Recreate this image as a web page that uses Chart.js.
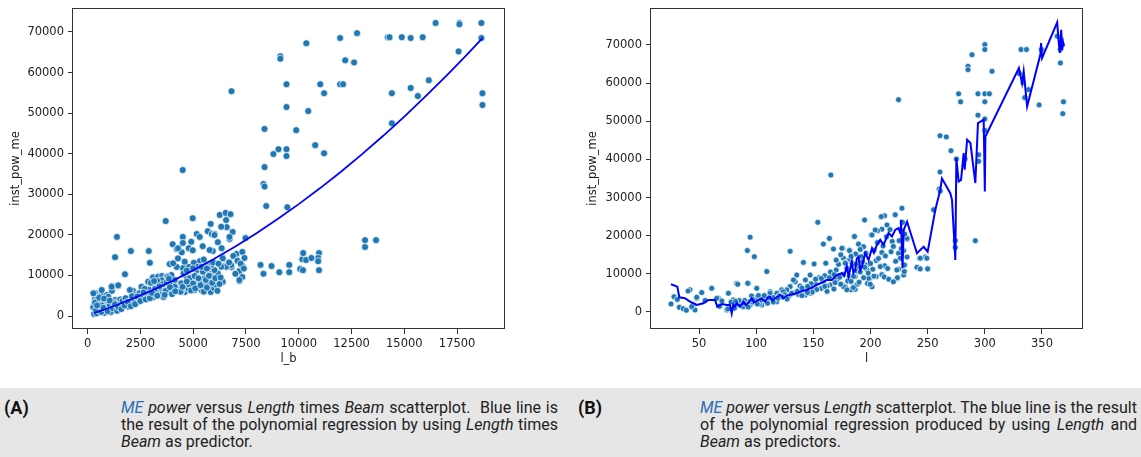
<!DOCTYPE html>
<html>
<head>
<meta charset="utf-8">
<script src="https://cdn.jsdelivr.net/npm/chart.js@4.4.1/dist/chart.umd.min.js"></script>
<style>
  body { margin: 0; background: #fff; width: 1141px; height: 457px; position: relative; overflow: hidden; }
  canvas { position: absolute; top: 0; }
  #cap { position: absolute; left: 0; top: 388px; width: 1141px; height: 69px; background: #e6e6e6; }
  .lab { position: absolute; top: 9px; font: bold 18px Roboto, sans-serif; color: #111; }
  .txt { position: absolute; top: 11px; width: 437px; font: 16px/17px Roboto, sans-serif; color: #222; }
  .txt div { white-space: nowrap; }
  .txt .j { text-align: justify; text-align-last: justify; }
  .me { color: #2a6db5; }
</style>
</head>
<body>
<canvas id="chartA" width="560" height="388" style="left:0"></canvas>
<canvas id="chartB" width="571" height="388" style="left:570px"></canvas>
<div id="cap">
  <div class="lab" style="left:4px">(A)</div>
  <div class="txt" style="left:121px">
    <div class="j"><i><span class="me">ME</span> power</i> versus <i>Length</i> times <i>Beam</i> scatterplot.&nbsp; Blue line is</div>
    <div class="j">the result of the polynomial regression by using <i>Length</i> times</div>
    <div><i>Beam</i> as predictor.</div>
  </div>
  <div class="lab" style="left:578px">(B)</div>
  <div class="txt" style="left:700px">
    <div class="j"><i><span class="me">ME</span> power</i> versus <i>Length</i> scatterplot. The blue line is the result</div>
    <div class="j">of the polynomial regression produced by using <i>Length</i> and</div>
    <div><i>Beam</i> as predictors.</div>
  </div>
</div>
<script>
// ---- (A) inst_pow_me vs l_b ----
const lbX = [4505,6815,9130,9130,9420,9420,8380,9880,9040,9420,8800,9420,8380,8330,8380,
  10360,11960,12760,12200,12620,11020,11200,11960,12100,10450,10780,11200,
  14220,14300,14880,15300,15870,16480,17610,17610,18650,18650,17570,16160,15300,15640,14410,18700,18700,14410,
  8460,9460,13140,13140,13660,
  8190,8330,8710,9080,9550,9550,10070,10200,10170,10210,10350,10600,10960,10920,10920,10960,
  1300,1390,2050,1770,2150,2900,2950,2570,3700,3090,3370,3940,4030,4220,4460,4510,4510,4600,4790,4980,4980,5170,5310,5450,5690,5830,5880,5930,6020,6260,6170,6540,6770,6590,6730,6870,6350,6400,6440,6580,6820,7050,7330,7430,7480,7190,7330,7330,7190,6400,5970,5880,5830,5450,5310,4980,4690,4460,4360,3990,4600,4980,5170,5310,5640,5780,5030,4790,4510,4220,3890,
  310,260,350,350,680,730,920,1150,1440,1150,
  275,430,275,670,980,1140,1450,825,1300,1610,1925,2005,2240,2555,2710,2870,3100,3340,3530,3735,3970,4130,4440,4600,4835,5070,5310,5540,5860,6010,6170,6400,5390,5070,4760,4440,4130,3810,3580,3340,3100,2870,2630,2400,2160,1925,1610,1300,980,745,430,
  600,800,900,1100,1200,1500,1700,2000,2300,2600,2900,3200,3400,3600,3000,2700,3800,3500,
  4280,4910,5780,6010,6330,6560,6720,7190,6800,6560,6330,6400,6010,5860,5700,5460,5230,4990,4600,4280,4050,
  500,550,700,850,1000,1050,1250,1350,1550,1650,1800,1850,2100,2200,2450,2500,2800,3000,3250,3450,3300,3550,3700,3200,
  5500,6000,5700,5200,4800,6100,
  4400,4500,4700,4900,5000,5100,5250,5350,5500,5600,5650,5750,5900,6050,6150,6250,6300,4550,4700,5400,5500,5650,5950,6200,6700,6900,7100,7250,7400,7000,
  350,400,450,550,650,750,780,950,1050,1200,1300,1400,1450,1600,1750,1900,2050,2250,2350,2500,2650,2750,2950,3050,3150,3300,3400,3650,3750,3900,4000,4150,3850];
const lbY = [35960,55400,64000,63400,57100,51500,46100,45800,41100,41100,39900,39400,36700,32500,31900,
  67200,68500,69700,63000,62500,57100,54900,57100,57100,50500,42100,40100,
  68700,68700,68700,68500,68700,72200,72200,71900,72200,68500,65200,58100,56200,54200,54900,54900,52000,47500,
  27100,26800,18700,17000,18700,
  12600,10400,12300,10800,12600,10800,11600,11300,14000,15500,13800,14300,15500,14300,13500,11300,
  14500,19500,16000,10300,6200,16000,13100,7100,23400,9600,9800,9800,17700,16500,15700,19500,18000,13300,16700,24100,16200,20200,19500,17200,20900,22700,20200,16000,20200,24900,18200,25400,25100,21900,19000,20700,16700,14500,12300,12100,12100,15300,15800,14300,19200,11100,12300,9600,8600,8400,9600,7400,5900,6400,8600,9600,9600,8100,6400,7900,5900,7100,11300,13500,12600,11300,13100,12100,11800,12100,12800,
  500,2200,5700,4200,5200,3900,5200,6200,7400,7400,
  5590,3940,2140,6400,4760,7220,7560,3120,3940,3120,3940,6400,5170,7220,5990,8450,9520,9690,9850,9690,10100,8870,8050,7060,9280,9850,8870,9280,9690,8870,10500,8450,6400,6400,6810,5990,7220,5990,4760,6400,4600,4760,4350,3530,3940,2300,2300,1480,1900,1070,660,
  1200,800,1500,1000,2500,1800,3000,2800,4400,5100,6500,7500,5400,4700,8200,6700,9600,8800,
  16700,18300,16250,19950,22000,23650,19500,8870,12560,12150,12150,14200,11300,12560,11750,10900,12150,11750,13370,14200,12980,
  3000,1800,2600,2200,3300,2700,3300,2600,4100,3700,4400,3300,4900,3300,5600,4600,5500,5200,5900,6900,8600,7800,6200,6700,
  7500,6800,8300,7200,7800,7700,
  6000,7200,8500,6300,8000,6800,9300,7600,6000,8900,7000,9900,8200,9300,6200,7900,9500,10500,11200,12100,13900,11700,13200,12900,13200,14800,13600,12900,11700,10400,
  3300,1500,2600,4500,1000,2000,4300,1200,3800,1900,2900,1300,2200,1700,2600,3500,2400,2900,4800,3700,5800,4100,4400,5700,8600,5000,7300,5200,8300,7100,5400,6100,9200];
// regression curve
const lbFitX = [300,1000,2000,3000,4000,5000,6000,7000,8000,9000,10000,11000,12000,13000,14000,15000,16000,17000,18000,18700];
const lbFitY = [700,1980,3980,6190,8610,11250,14090,17150,20420,23880,27570,31460,35560,39880,44410,49150,54100,59260,64620,68500];
const ticksAX = [0,2500,5000,7500,10000,12500,15000,17500];
const ticksAY = [0,10000,20000,30000,40000,50000,60000,70000];

// ---- (B) inst_pow_me vs l ----
const lenX = [224.5,300,300,288.8,285.3,285.3,306.3,277.1,294,300,304,278.8,300,294,300,300,260.8,266.3,270.4,275.1,282.7,294.6,294.6,260.8,260,261,
  331.7,336.4,349.5,363.3,366.1,366.1,330.2,333.4,338.4,334.9,347.5,368.8,368.2,
  165.3,255.2,274.2,274.2,291.7,
  227.5,212.3,209.4,221.6,228,214.4,194.8,210,206.1,200.6,185.7,189.5,193.9,175.8,181.6,232,229,224.6,232,226,229.8,224.6,229,223.1,242.9,248,250,242.9,240.6,205,212.3,208.5,196.9,196.9,199.2,201.3,197.4,188.6,182.9,186.6,178,181.6,186.6,181.6,176.4,179.3,
  186,201.3,204.1,221.6,232,243.5,249.3,250,243.5,229.6,223,223.6,198.3,199.8,185.2,176.4,179.3,170.6,164.7,158.8,151.6,142.8,147.2,137,134.1,129.7,126.8,122.4,118,118,112.2,112.2,106.3,104.9,99,94.7,91.8,88.8,83,80,77.1,74.3,75.7,83,93.2,100.5,61.1,52.4,42.1,48,45,46.5,66.9,
  94.7,92.3,98.4,109.3,129.7,153.9,158.8,164.1,141.3,150.7,160.9,167.6,175,181.6,
  25.5,28.1,31,32.8,36.3,38.9,40.4,43.6,48,55.3,65.5,75.1,83.9,92.6,147.2,143.1,135.5,132.6,138.4,142.8,129.7,123.8,112.2,106.3,
  155,160,165,170,172,168,162,157,152,148,176,178,184,188,190,192,194,196,203,206,211,214,217,219,202,205,210,190,185,180,174,168,162,170,174,
  102,108,115,120,125,128,133,137,140,145,150,97,103,110,86,90,96,81,78,70,68,
  183,187,191,193,195,198,200,203,207,210,213,215,218,220,222,225,227,228,230,212,216,220,187,191,183,178,173,169,164,160,157,153,149,145,140,136,131,127,123,119,115,111,107,104,101,97,93,89,85,82];
const lenY = [55650,70100,68800,67460,64400,63500,63100,57200,57200,57200,57200,55100,55100,51600,50600,47600,46200,45900,42300,40100,40100,41200,39500,36700,32200,31700,
  68800,68800,68800,72300,68800,65300,62500,60200,58300,56200,54300,55100,52000,
  35900,26800,18700,16900,18700,
  27200,25200,25000,25400,23500,22800,24100,21700,21300,20200,19700,17800,17100,16700,16100,19100,16100,15400,14400,14100,12300,11200,9700,8800,14100,14400,11500,11500,11700,13500,12100,11900,12300,11000,8800,6600,7500,7300,5800,5950,6600,9300,9300,13600,14100,11500,
  19800,20200,21500,25500,19300,14100,14100,11300,11300,10600,11000,9000,8850,7270,9300,6650,5800,8400,7100,7950,7500,5800,4900,5800,7950,6650,5800,5800,4900,2700,5300,3150,3150,1840,3600,1840,2700,1400,1840,3150,970,530,4900,7500,7500,6200,6200,5080,5800,3600,1840,530,3600,
  19600,16100,14500,10600,15900,23500,17800,19300,13000,12600,12800,16500,16700,16100,
  2100,4000,3300,1230,870,450,5500,1400,3850,3000,3600,790,7270,7530,9700,8400,9700,8400,6800,4460,4460,5330,4900,3330,
  9000,9500,10500,11000,12500,9800,6800,6200,8600,7400,9800,13000,12800,10800,12000,14500,9000,15400,16200,18200,17300,19700,21600,18500,11200,9300,9800,7800,6400,8100,7300,6000,5400,13600,15000,
  4300,4100,3800,4200,4500,3900,5000,4600,6300,6700,6100,2600,2100,2300,2200,3000,4200,1000,2600,2900,1500,
  8000,12500,10500,13200,11700,10200,12700,9400,14000,15600,14700,11400,15800,17200,13300,18700,16600,21200,20400,9200,8600,7900,15200,16400,14600,12800,9100,7700,9000,6700,8800,5900,5200,5100,4300,5400,4900,3400,3900,3600,2600,3700,4300,3100,2100,3200,1300,2300,3000,2800];
// fitted values (Length and Beam model) sorted by length
const lenFitX = [25.5,31,32.8,37.7,42.1,48,53.8,58.2,64,66,70,74.3,77,78.6,80,81.5,83,85.9,88.8,91,93.2,96.1,98,100.5,104.9,107.8,110,112.2,114,116.6,121,124,126.8,131,135.6,140,144.3,148,153.1,158,161.8,166.2,170.6,175,177,179.3,180.8,183.7,185,186.6,188,189.5,191,192.5,195.4,198.3,201.3,203,205.6,208.5,211.4,215.8,218.8,221.6,224.5,226,226.6,228,229,232,240.6,246.5,250,256.7,261,262.5,269.8,271.3,274.2,275.1,277.1,279.2,281.5,282.4,284.5,287.4,291.7,294,299,300,300.5,329.8,332.6,334,337,348.6,349.2,350.1,363.3,364.7,365.6,366.8,367.7,368.5,369];
const lenFitY = [7270,6650,3860,3600,2700,1840,2280,3150,3150,1400,2100,1840,1900,-400,2000,1400,2280,1400,2700,1800,2400,3600,2500,2900,3600,2700,3800,4020,3000,3600,4460,3600,4300,4600,4900,5500,5780,6300,7090,7800,8400,8400,9710,10160,9500,11900,9300,13200,10200,11000,14000,14500,11000,11900,15400,13650,16700,15500,17600,18900,17600,20700,19800,21500,22000,20700,24150,11470,21500,23700,15400,17100,15800,26800,32000,35000,31150,29400,13650,40350,34200,34650,41650,37300,45150,44290,33800,49500,50400,31600,46000,63970,60000,63100,53900,67500,70500,66600,75950,70500,67900,74000,68800,70500,69600];
const ticksBX = [50,100,150,200,250,300,350];
const ticksBY = [0,10000,20000,30000,40000,50000,60000,70000];

const tickFont = { family: 'DejaVu Sans', size: 11.5 };

const frame = {
  id: 'frame',
  afterDraw(chart) {
    const a = chart.chartArea, ctx = chart.ctx;
    ctx.save();
    ctx.strokeStyle = '#333';
    ctx.lineWidth = 1;
    ctx.strokeRect(Math.round(a.left) - 0.5, Math.round(a.top) + 0.5, Math.round(a.right - a.left) + 1, Math.round(a.bottom - a.top) - 1);
    ctx.restore();
  }
};

function pts(xs, ys) { return xs.map((x, i) => ({ x: x, y: ys[i] })); }

function makeChart(id, o) {
  return new Chart(document.getElementById(id), {
    type: 'scatter',
    data: {
      datasets: [
        { data: pts(o.fitX, o.fitY), showLine: true, borderColor: '#0000ff', borderWidth: o.lw,
          pointRadius: 0, fill: false, order: 0, tension: 0 },
        { data: pts(o.x, o.y), backgroundColor: '#1f77b4', borderColor: '#ffffff', borderWidth: 0.7,
          pointRadius: o.r, order: 1 }
      ]
    },
    plugins: [frame],
    options: {
      responsive: false, animation: false, devicePixelRatio: 1,
      layout: { padding: { top: 8, right: o.padR, left: 0, bottom: 0 } },
      plugins: { legend: { display: false }, tooltip: { enabled: false } },
      scales: {
        x: {
          type: 'linear', min: o.xMin, max: o.xMax,
          afterBuildTicks: s => { s.ticks = o.tx.map(v => ({ value: v })); },
          afterFit: s => { s.height = 59; s.paddingLeft = 0; s.paddingRight = 0; },
          border: { display: false },
          grid: { drawOnChartArea: false, drawTicks: true, tickLength: 5, color: '#333' },
          ticks: { font: tickFont, color: '#222', padding: 3, maxRotation: 0, callback: v => String(v) },
          title: { display: true, text: o.xTitle, font: tickFont, color: '#222', padding: { top: 0, bottom: 22 } }
        },
        y: {
          type: 'linear', min: o.yMin, max: o.yMax,
          afterBuildTicks: s => { s.ticks = o.ty.map(v => ({ value: v })); },
          afterFit: s => { s.width = o.yW; s.paddingTop = 0; s.paddingBottom = 0; },
          border: { display: false },
          grid: { drawOnChartArea: false, drawTicks: true, tickLength: 5, color: '#333' },
          ticks: { font: tickFont, color: '#222', padding: 4, callback: v => String(v) },
          title: { display: true, text: 'inst_pow_me', font: tickFont, color: '#222', padding: { top: o.tPad, bottom: 0 } }
        }
      }
    }
  });
}

makeChart('chartA', { x: lbX, y: lbY, fitX: lbFitX, fitY: lbFitY, tx: ticksAX, ty: ticksAY,
  xMin: -690, xMax: 19720, yMin: -3200, yMax: 75900, yW: 73, padR: 56, r: 3.5, lw: 1.8,
  xTitle: 'l_b', tPad: 9 });
makeChart('chartB', { x: lenX, y: lenY, fitX: lenFitX, fitY: lenFitY, tx: ticksBX, ty: ticksBY,
  xMin: 8, xMax: 385, yMin: -4460, yMax: 79700, yW: 81, padR: 59, r: 3.0, lw: 2,
  xTitle: 'l', tPad: 16 });
</script>
</body>
</html>
